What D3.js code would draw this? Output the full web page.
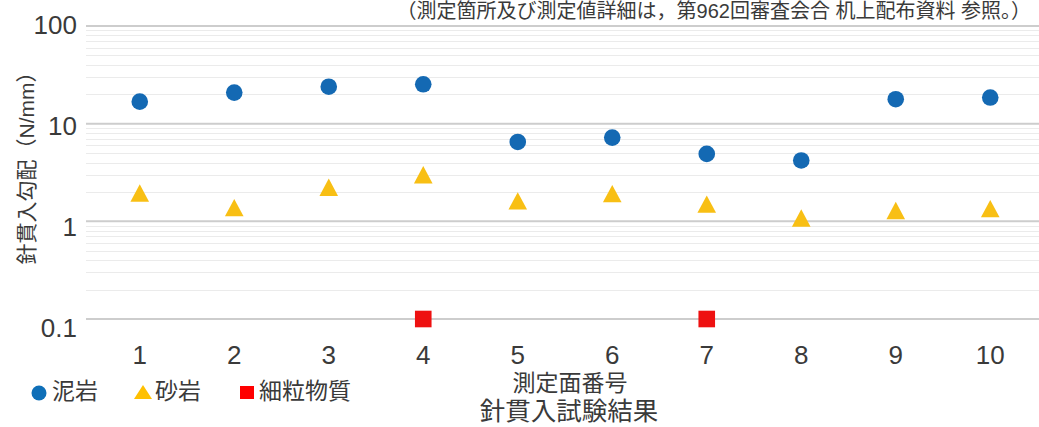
<!DOCTYPE html>
<html><head><meta charset="utf-8">
<script src="https://cdn.jsdelivr.net/npm/d3@7"></script>
<style>body{margin:0;background:#fff}svg{display:block}text{font-family:"Liberation Sans",Arial,"Noto Sans CJK JP",sans-serif;fill:#3a3a3a}</style>
</head><body><svg id="c" width="1039" height="427"></svg>
<script>
const categories = ["1","2","3","4","5","6","7","8","9","10"];
const mudstone = [16.8, 20.8, 23.9, 25.3, 6.5, 7.2, 4.9, 4.2, 17.8, 18.5];
const sandstone = [1.95, 1.38, 2.23, 3.0, 1.62, 1.92, 1.50, 1.08, 1.29, 1.35];
const fineCategories = ["4","7"];
const fineMaterial = [0.1, 0.1];
const yTicks = [0.1, 1, 10, 100];
const yTickLabels = ["0.1","1","10","100"];
const seriesNames = ["泥岩","砂岩","細粒物質"];
const colors = {mud:"#1469b3", sand:"#f8bf14", fine:"#ee1111"};

const svg = d3.select("#c");
const x = d3.scaleBand().domain(categories).range([92.5, 1037.5]);
const y = d3.scaleLog().domain([0.1, 100]).range([319, 26]);
const yLab = d3.scaleLog().domain([0.1, 100]).range([327, 24]);

// minor gridlines
const minors = [];
for (let e=-1;e<2;e++) for (let m=2;m<=9;m++) minors.push(m*Math.pow(10,e));
svg.append("g").selectAll("line").data(minors).join("line")
  .attr("x1",86).attr("x2",1039).attr("y1",d=>Math.round(y(d))+0.5).attr("y2",d=>Math.round(y(d))+0.5)
  .attr("stroke","#ebebeb").attr("stroke-width",1);
// major gridlines
svg.append("g").selectAll("line").data(yTicks).join("line")
  .attr("x1",86).attr("x2",1039).attr("y1",d=>y(d)).attr("y2",d=>y(d))
  .attr("stroke","#cdcdcd").attr("stroke-width",2);

// y axis labels
const yAxis = d3.axisLeft(yLab).tickValues(yTicks).tickFormat((d,i)=>yTickLabels[i]).tickSize(0).tickPadding(0);
const gy = svg.append("g").attr("transform","translate(77,0)").call(yAxis);
gy.select(".domain").remove();
gy.selectAll("text").style("font-size","26px").attr("fill","#3a3a3a").attr("dy","0.36em");

// x axis
const xAxis = d3.axisBottom(x).tickSize(0).tickPadding(0);
const gx = svg.append("g").attr("transform","translate(0,364)").call(xAxis);
gx.select(".domain").remove();
gx.selectAll("text").style("font-size","26px").attr("fill","#3a3a3a").attr("dy","0");

// points
const cx = (c)=>x(c)+x.bandwidth()/2;
svg.append("g").selectAll("circle").data(mudstone).join("circle")
  .attr("cx",(d,i)=>cx(categories[i])).attr("cy",d=>y(d)).attr("r",8.3).attr("fill",colors.mud);
const triPath = "M0,-8.7L9.3,8.7L-9.3,8.7Z";
svg.append("g").selectAll("path").data(sandstone).join("path")
  .attr("d",triPath).attr("transform",(d,i)=>`translate(${cx(categories[i])},${y(d)})`).attr("fill",colors.sand);
svg.append("g").selectAll("rect").data(fineMaterial).join("rect")
  .attr("x",(d,i)=>cx(fineCategories[i])-8.3).attr("y",d=>y(d)-8.3).attr("width",16.6).attr("height",16.6).attr("fill",colors.fine);

// axis titles
svg.append("text").attr("transform","translate(34,163) rotate(-90)").attr("text-anchor","middle")
  .style("font-size","21px").text("針貫入勾配（N/mm）");
svg.append("text").attr("x",570).attr("y",391).attr("text-anchor","middle").style("font-size","23px").text("測定面番号");
svg.append("text").attr("x",569).attr("y",420).attr("text-anchor","middle").style("font-size","25.5px").text("針貫入試験結果");
svg.append("text").attr("x",1031).attr("y",18).attr("text-anchor","end").style("font-size","20px").text("（測定箇所及び測定値詳細は，第962回審査会合 机上配布資料 参照。）");

// legend
const lg = svg.append("g");
lg.append("circle").attr("cx",39).attr("cy",393).attr("r",7.5).attr("fill","#0f6fb8");
lg.append("text").attr("x",52).attr("y",399).style("font-size","23px").text(seriesNames[0]);
lg.append("path").attr("d","M0,-7L9,7L-9,7Z").attr("transform","translate(143,392)").attr("fill","#ffc000");
lg.append("text").attr("x",155).attr("y",399).style("font-size","23px").text(seriesNames[1]);
lg.append("rect").attr("x",240).attr("y",386).attr("width",14).attr("height",13).attr("fill","#ff0000");
lg.append("text").attr("x",259).attr("y",399).style("font-size","23px").text(seriesNames[2]);
</script></body></html>
